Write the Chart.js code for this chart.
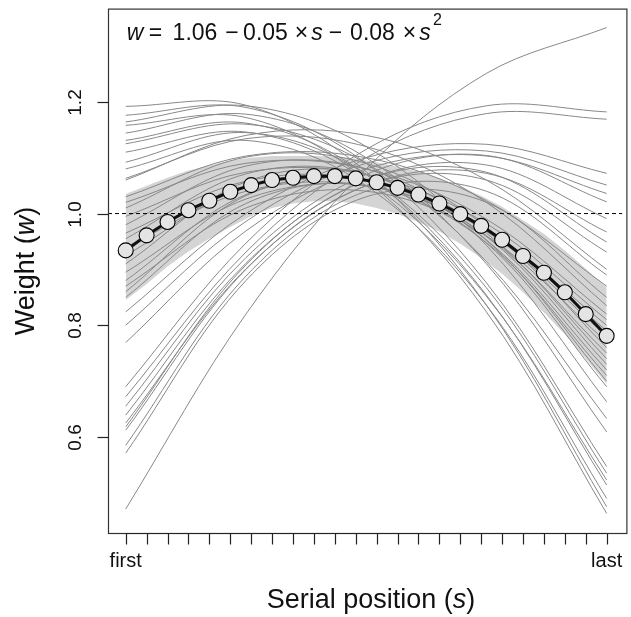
<!DOCTYPE html>
<html>
<head>
<meta charset="utf-8">
<script src="https://cdn.jsdelivr.net/npm/chart.js@4.4.1/dist/chart.umd.min.js"></script>
<style>
html,body{margin:0;padding:0;background:#fff;overflow:hidden;}
canvas{display:block;}
</style>
</head>
<body>
<canvas id="c" width="631" height="617"></canvas>
<script>
// ---------------- data ----------------
const positions = [1,2,3,4,5,6,7,8,9,10,11,12,13,14,15,16,17,18,19,20,21,22,23,24];
const meanWeights = [0.934,0.961,0.985,1.006,1.023,1.039,1.051,1.060,1.064,1.067,1.067,1.063,1.056,1.046,1.034,1.018,0.999,0.978,0.953,0.924,0.894,0.859,0.820,0.781];
const bandUpper = [1.035,1.050,1.064,1.077,1.086,1.095,1.100,1.103,1.103,1.103,1.102,1.098,1.092,1.084,1.075,1.063,1.048,1.032,1.012,0.988,0.964,0.934,0.901,0.868];
const bandLower = [0.845,0.874,0.905,0.932,0.955,0.976,0.995,1.010,1.018,1.022,1.022,1.018,1.010,0.999,0.985,0.968,0.946,0.921,0.892,0.859,0.823,0.784,0.740,0.695];
// individual curves, sampled at these serial positions
const curvePositions = [1, 6.75, 12.5, 18.25, 24];
const curvesHighStart = [
  [1.192,1.194,1.075,0.836,0.475],
  [1.176,1.190,1.090,0.876,0.547],
  [1.164,1.193,1.120,0.943,0.663],
  [1.158,1.172,1.060,0.824,0.463],
  [1.144,1.178,1.100,0.910,0.609],
  [1.131,1.162,1.070,0.854,0.514],
  [1.125,1.160,1.090,0.914,0.633],
  [1.110,1.146,1.060,0.852,0.523],
  [1.092,1.145,1.070,0.867,0.535],
  [1.080,1.131,1.050,0.836,0.490],
  [1.063,1.134,1.120,1.020,0.835],
  [1.060,1.140,1.140,1.060,0.900]
];
const curvesLowStart = [
  [0.471,0.820,1.080,1.251,1.333],
  [0.690,0.947,1.115,1.193,1.182],
  [0.672,0.931,1.100,1.179,1.169],
  [0.824,1.000,1.100,1.124,1.072],
  [0.800,0.986,1.090,1.112,1.051],
  [0.769,0.969,1.080,1.103,1.036],
  [0.655,0.921,1.070,1.104,1.021],
  [0.639,0.911,1.060,1.087,0.991],
  [0.625,0.901,1.050,1.072,0.967],
  [0.618,0.908,1.060,1.074,0.949],
  [0.612,0.900,1.050,1.060,0.931],
  [0.585,0.888,1.040,1.040,0.890],
  [0.571,0.880,1.030,1.020,0.850]
];
const curvesMidStart = [
  [1.030,1.103,1.100,1.023,0.870],
  [1.020,1.090,1.080,0.990,0.820],
  [1.010,1.101,1.090,0.976,0.760],
  [0.995,1.074,1.070,0.982,0.810],
  [0.980,1.085,1.080,0.965,0.740],
  [0.965,1.058,1.060,0.970,0.790],
  [0.955,1.071,1.070,0.953,0.720],
  [0.940,1.040,1.050,0.970,0.800],
  [0.925,1.048,1.060,0.960,0.750],
  [0.910,1.057,1.070,0.952,0.700],
  [0.895,1.026,1.050,0.968,0.780],
  [0.880,1.034,1.060,0.959,0.730],
  [0.870,1.010,1.040,0.960,0.770],
  [0.860,1.032,1.060,0.947,0.690],
  [0.850,1.018,1.050,0.948,0.710]
];
const referenceWeight = 1.0;
const yTicks = [0.6, 0.8, 1.0, 1.2];
const xLabelPositions = [1, 24];
const xLabels = ['first', 'last'];
const xTitle = 'Serial position (s)';
const yTitle = 'Weight (w)';

// ---------------- chart ----------------
const FONT = "'Liberation Sans', Arial, Helvetica, sans-serif";
const toXY = (xs, ys) => xs.map((x, i) => ({x: x, y: ys[i]}));

const datasets = [];
datasets.push({
  label: 'mean', data: toXY(positions, meanWeights), order: 0,
  borderColor: '#111', borderWidth: 3, tension: 0,
  pointRadius: 7.5, pointBackgroundColor: '#e4e4e4', pointBorderColor: '#000', pointBorderWidth: 1.1
});
datasets.push({
  label: 'ref', data: [{x: 0.153, y: referenceWeight}, {x: 24.753, y: referenceWeight}], order: 1,
  borderColor: '#000', borderWidth: 1, borderDash: [4, 3], pointRadius: 0
});
[curvesHighStart, curvesLowStart, curvesMidStart].forEach(group => {
  group.forEach(vals => {
    datasets.push({
      data: toXY(curvePositions, vals), order: 2,
      borderColor: '#888888', borderWidth: 1, pointRadius: 0, tension: 0.35
    });
  });
});
datasets.push({
  label: 'bandUpper', data: toXY(positions, bandUpper), order: 5,
  borderWidth: 0, pointRadius: 0, fill: '+1', backgroundColor: 'rgb(212,212,212)', borderColor: 'rgba(0,0,0,0)'
});
datasets.push({
  label: 'bandLower', data: toXY(positions, bandLower), order: 6,
  borderWidth: 0, pointRadius: 0, fill: false, borderColor: 'rgba(0,0,0,0)'
});

const decor = {
  id: 'decor',
  afterDraw(chart) {
    const ctx = chart.ctx, xs = chart.scales.x, ys = chart.scales.y, a = chart.chartArea;
    ctx.save();
    // frame
    ctx.strokeStyle = '#333'; ctx.lineWidth = 1.2;
    ctx.strokeRect(a.left + 0.5, a.top + 0.5, a.right - a.left + 4, a.bottom - a.top);
    // x axis line + ticks
    const x0 = xs.getPixelForValue(positions[0]), x1 = xs.getPixelForValue(positions[positions.length - 1]);
    const yb = a.bottom + 0.5;
    ctx.strokeStyle = '#222'; ctx.lineWidth = 1.2;
    ctx.beginPath(); ctx.moveTo(x0, yb); ctx.lineTo(x1, yb); ctx.stroke();
    positions.forEach(p => {
      const px = Math.round(xs.getPixelForValue(p)) + 0.5;
      ctx.beginPath(); ctx.moveTo(px, yb); ctx.lineTo(px, yb + 11); ctx.stroke();
    });
    ctx.fillStyle = '#111';
    ctx.font = '20px ' + FONT; ctx.textAlign = 'center'; ctx.textBaseline = 'alphabetic';
    xLabels.forEach((t, i) => ctx.fillText(t, xs.getPixelForValue(xLabelPositions[i]), 567));
    // y ticks
    const xl = a.left + 0.5;
    yTicks.forEach(v => {
      const py = Math.round(ys.getPixelForValue(v)) + 0.5;
      ctx.beginPath(); ctx.moveTo(xl, py); ctx.lineTo(xl - 11, py); ctx.stroke();
      ctx.save(); ctx.translate(75, py); ctx.rotate(-Math.PI / 2);
      ctx.font = '19px ' + FONT; ctx.textAlign = 'center'; ctx.textBaseline = 'middle';
      ctx.fillText(v.toFixed(1), 0, 1);
      ctx.restore();
    });
    // axis titles
    ctx.textBaseline = 'alphabetic';
    drawMixed(ctx, xTitle, 371, 608, 27, 'center');
    ctx.save(); ctx.translate(34, 271); ctx.rotate(-Math.PI / 2);
    drawMixed(ctx, yTitle, 0, 0, 27, 'center');
    ctx.restore();
    // equation (pieces centred where the reference shows them)
    const eq = [
      ['w', 135, true], ['=', 155.5, false], ['1.06', 195, false], ['\u2212', 232, false],
      ['0.05', 265.5, false], ['\u00d7', 301.5, false], ['s', 317, true], ['\u2212', 335.5, false],
      ['0.08', 372.5, false], ['\u00d7', 409.5, false], ['s', 425, true]
    ];
    ctx.textAlign = 'center';
    eq.forEach(([t, x, it]) => { ctx.font = (it ? 'italic ' : '') + '23px ' + FONT; ctx.fillText(t, x, 40); });
    ctx.font = '16px ' + FONT; ctx.fillText('2', 437.5, 25);
    ctx.restore();
  }
};
// draws text where the single letter inside parentheses is italic
function drawMixed(ctx, text, x, y, size, align) {
  const m = text.match(/^(.*\()(.)(\).*)$/);
  const parts = m ? [[m[1], false], [m[2], true], [m[3], false]] : [[text, false]];
  let total = 0;
  parts.forEach(p => { ctx.font = (p[1] ? 'italic ' : '') + size + 'px ' + FONT; p.w = ctx.measureText(p[0]).width; total += p.w; });
  let cx = align === 'center' ? x - total / 2 : x;
  ctx.textAlign = 'left';
  parts.forEach(p => { ctx.font = (p[1] ? 'italic ' : '') + size + 'px ' + FONT; ctx.fillText(p[0], cx, y); cx += p.w; });
}

new Chart(document.getElementById('c'), {
  type: 'line',
  data: { datasets: datasets },
  options: {
    responsive: false, animation: false, devicePixelRatio: 1,
    layout: { padding: { left: 108, top: 8, right: 0, bottom: 84 } },
    plugins: { legend: { display: false }, tooltip: { enabled: false }, filler: { propagate: false } },
    scales: {
      x: { type: 'linear', min: 0.153, max: 24.753, display: false },
      y: { type: 'linear', min: 0.428, max: 1.367, display: false }
    }
  },
  plugins: [decor]
});
</script>
</body>
</html>
